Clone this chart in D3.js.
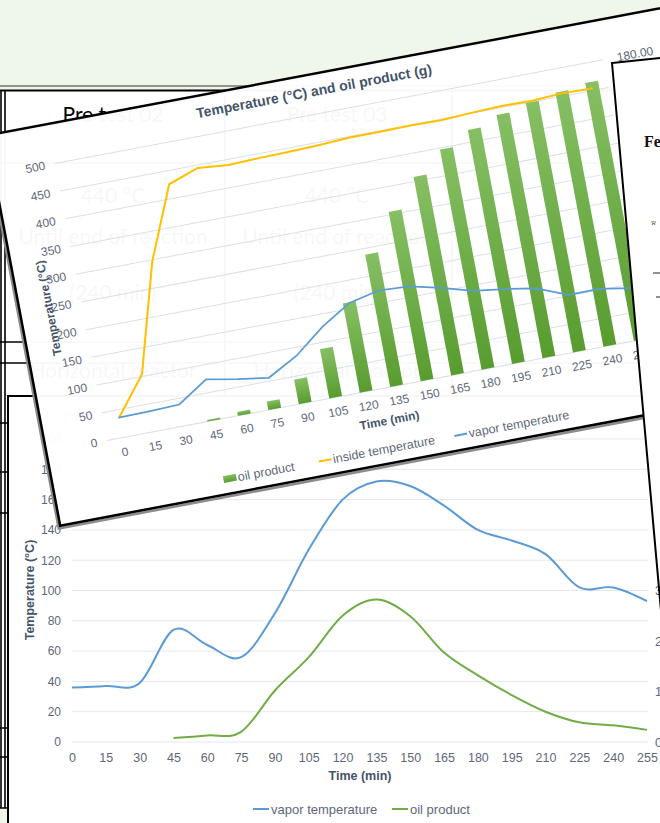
<!DOCTYPE html>
<html>
<head>
<meta charset="utf-8">
<script src="https://cdn.jsdelivr.net/npm/d3@7/dist/d3.min.js"></script>
<style>
  html, body { margin: 0; padding: 0; background: #eef7ea; }
  svg { display: block; }
</style>
</head>
<body>
<svg id="chart" width="660" height="823"></svg>
<script>
// ---------- data ----------
// Sampling times (min)
const minutes = [0, 15, 30, 45, 60, 75, 90, 105, 120, 135, 150, 165, 180, 195, 210, 225, 240, 255];
// Vapor temperature (°C)
const vaporTemp = [36, 37, 39, 74, 64, 56, 85, 127, 160, 172, 169, 156, 140, 133, 124, 102, 102, 93];
// Inside (reactor) temperature (°C)
const insideTemp = [35, 104, 297, 426, 445, 440, 442, 443, 445, 448, 448, 449, 448, 451, 453, 452, 455, 454];
// Cumulative oil product (g)
const oilCumulative = [0, 0, 0, 1, 2.5, 5.5, 16, 32, 58, 86, 110, 129, 143, 152, 158, 162, 165, 167.5];
// Oil product collected per 15-min interval (g)
const oilInterval = [null, null, null, 0.8, 1.3, 2, 10.2, 16.8, 25, 28.2, 24.9, 17.7, 13.2, 9.3, 6, 3.9, 3.3, 2.4];

// Axis ticks
const tempTicksTop = [0, 50, 100, 150, 200, 250, 300, 350, 400, 450, 500];
const oilTicksTop = [0, 18, 36, 54, 72, 90, 108, 126, 144, 162, 180];
const tempTicksBottom = [0, 20, 40, 60, 80, 100, 120, 140, 160, 180, 200];
const oilTicksBottom = [0, 10, 20, 30, 40, 50, 60];

// Experiment table text underneath
const tableCells = [
  ["Pre test 02", 113, 122], ["Pre test 03", 337, 122],
  ["440 °C", 113, 203], ["440 °C", 337, 203],
  ["Until end of reaction", 113, 244], ["Until end of reaction", 337, 244],
  ["(240 min)", 113, 300], ["(240 min)", 337, 300],
  ["Horizontal reactor", 113, 378], ["Horizontal reactor", 337, 378]
];

// ---------- styles ----------
const FONT = '"Liberation Sans", Arial, sans-serif';
const C = {
  blue: "#5b9bd5", orange: "#ffc000", green: "#70ad47",
  label: "#5e6878", title: "#44546a", grid: "#dcdfe4", gridB: "#e3e8ee"
};

const svg = d3.select("#chart");
const W = 660, H = 823;

const defs = svg.append("defs");
const grad = defs.append("linearGradient").attr("id", "barFill")
  .attr("x1", 0).attr("y1", 0).attr("x2", 0).attr("y2", 1);
grad.append("stop").attr("offset", "0%").attr("stop-color", "#86bf64");
grad.append("stop").attr("offset", "100%").attr("stop-color", "#589c2f");

// background
svg.append("rect").attr("width", W).attr("height", H).attr("fill", "#eef7ea");

// ---------- table underneath ----------
const table = svg.append("g");
table.append("rect").attr("x", 0).attr("y", 90).attr("width", W).attr("height", 718).attr("fill", "#fff");
table.append("line").attr("x1", 0).attr("x2", W).attr("y1", 86).attr("y2", 86)
  .attr("stroke", "#333").attr("stroke-width", 1);
table.append("line").attr("x1", 0).attr("x2", W).attr("y1", 90.5).attr("y2", 90.5)
  .attr("stroke", "#000").attr("stroke-width", 2);
[1, 5, 225, 452].forEach(x => {
  table.append("line").attr("x1", x).attr("x2", x).attr("y1", 90).attr("y2", 808)
    .attr("stroke", "#000").attr("stroke-width", 1.6);
});
[163, 342, 363, 423, 472, 513, 728, 757, 808].forEach(y => {
  table.append("line").attr("x1", 0).attr("x2", W).attr("y1", y).attr("y2", y)
    .attr("stroke", "#000").attr("stroke-width", 1.6);
});
table.selectAll("text.cell").data(tableCells).join("text")
  .attr("class", "cell")
  .attr("x", d => d[1]).attr("y", d => d[2])
  .attr("text-anchor", "middle")
  .attr("font-family", "Lato, 'Open Sans', sans-serif")
  .attr("font-size", 21).attr("fill", "#000")
  .text(d => d[0]);

// ---------- lower chart: vapor temperature and oil product per interval ----------
const lower = svg.append("g");
lower.append("rect").attr("x", 8).attr("y", 396).attr("width", 700).attr("height", 500).attr("fill", "#fff");
lower.append("line").attr("x1", 8).attr("x2", 8).attr("y1", 395).attr("y2", 823)
  .attr("stroke", "#000").attr("stroke-width", 2);
lower.append("line").attr("x1", 7).attr("x2", 700).attr("y1", 396).attr("y2", 396)
  .attr("stroke", "#000").attr("stroke-width", 2);

const xB = d3.scaleLinear().domain([0, 255]).range([72, 647]);
const yB = d3.scaleLinear().domain([0, 200]).range([742, 439]);
const yB2 = d3.scaleLinear().domain([0, 60]).range([742, 439]);

lower.append("g").selectAll("line").data(tempTicksBottom).join("line")
  .attr("x1", 72).attr("x2", 648)
  .attr("y1", d => yB(d)).attr("y2", d => yB(d))
  .attr("stroke", C.gridB).attr("stroke-width", 1);

function styleAxis(g, size, color) {
  g.select(".domain").remove();
  g.attr("font-family", FONT).attr("font-size", size);
  g.selectAll("text").attr("fill", color);
}

lower.append("g").attr("transform", "translate(72,0)")
  .call(d3.axisLeft(yB).tickValues(tempTicksBottom).tickSize(0).tickPadding(11))
  .call(g => styleAxis(g, 12, C.label));
lower.append("g").attr("transform", "translate(0,742)")
  .call(d3.axisBottom(xB).tickValues(minutes).tickSize(0).tickPadding(11.5))
  .call(g => styleAxis(g, 12.5, C.label));
// secondary (oil) axis: its labels run under the right-hand sheet
lower.append("g").attr("transform", "translate(647,0)")
  .call(d3.axisRight(yB2).tickValues(oilTicksBottom).tickSize(0).tickPadding(8))
  .call(g => styleAxis(g, 12.5, C.label));

const smooth = d3.curveCatmullRom.alpha(0);
lower.append("path")
  .attr("d", d3.line().curve(smooth).x((d, i) => xB(minutes[i])).y(d => yB(d))(vaporTemp))
  .attr("fill", "none").attr("stroke", C.blue).attr("stroke-width", 2);
lower.append("path")
  .attr("d", d3.line().curve(smooth).defined(d => d != null)
    .x((d, i) => xB(minutes[i])).y(d => yB2(d))(oilInterval))
  .attr("fill", "none").attr("stroke", C.green).attr("stroke-width", 2);

lower.append("text").attr("x", 360).attr("y", 779.5).attr("text-anchor", "middle")
  .attr("font-family", FONT).attr("font-size", 12.5).attr("font-weight", "bold")
  .attr("fill", C.title).text("Time (min)");
lower.append("text").attr("transform", "translate(30,590) rotate(-90)")
  .attr("text-anchor", "middle").attr("dy", "0.35em")
  .attr("font-family", FONT).attr("font-size", 12.5).attr("font-weight", "bold")
  .attr("fill", C.title).text("Temperature (°C)");

const legB = [
  { name: "vapor temperature", color: C.blue, x: 253 },
  { name: "oil product", color: C.green, x: 392 }
];
legB.forEach(d => {
  lower.append("line").attr("x1", d.x).attr("x2", d.x + 16).attr("y1", 809).attr("y2", 809)
    .attr("stroke", d.color).attr("stroke-width", 2);
  lower.append("text").attr("x", d.x + 18).attr("y", 813.5)
    .attr("font-family", FONT).attr("font-size", 13).attr("fill", C.label).text(d.name);
});

// ---------- upper chart (tilted sheet): temperatures and cumulative oil ----------
const upper = svg.append("g").attr("transform", "translate(-13.5,135.6) rotate(-10.7)");
const FW = 760, FH = 397;
upper.append("rect").attr("x", -2).attr("y", 2.5).attr("width", FW).attr("height", FH)
  .attr("fill", "none").attr("stroke", "#8c8c8c").attr("stroke-width", 2.5);
upper.append("rect").attr("width", FW).attr("height", FH)
  .attr("fill", "#fff").attr("fill-opacity", 0.968)
  .attr("stroke", "#000").attr("stroke-width", 2.5);

const L = 62, R = 620, T = 40, B = 322;
const xT = d3.scaleBand().domain(minutes).range([L, R]);
const yT = d3.scaleLinear().domain([0, 500]).range([B, T]);
const yTo = d3.scaleLinear().domain([0, 180]).range([B, T]);
const bw = xT.bandwidth();
const cx = m => xT(m) + bw / 2;

upper.append("g").selectAll("line").data(tempTicksTop).join("line")
  .attr("x1", L).attr("x2", R)
  .attr("y1", d => yT(d)).attr("y2", d => yT(d))
  .attr("stroke", C.grid).attr("stroke-width", 1);

const barW = bw * 0.42;
upper.append("g").selectAll("rect")
  .data(minutes.map((m, i) => ({ m, v: oilCumulative[i] })).filter(d => d.v > 0))
  .join("rect")
  .attr("x", d => cx(d.m) - barW / 2)
  .attr("y", d => yTo(d.v))
  .attr("width", barW)
  .attr("height", d => yTo(0) - yTo(d.v))
  .attr("fill", "url(#barFill)");

upper.append("path")
  .attr("d", d3.line().x((d, i) => cx(minutes[i])).y(d => yT(d))(insideTemp))
  .attr("fill", "none").attr("stroke", C.orange).attr("stroke-width", 2);
upper.append("path")
  .attr("d", d3.line().x((d, i) => cx(minutes[i])).y(d => yT(d))(vaporTemp))
  .attr("fill", "none").attr("stroke", C.blue).attr("stroke-width", 1.75);

upper.append("g").attr("transform", `translate(${L},0)`)
  .call(d3.axisLeft(yT).tickValues(tempTicksTop).tickSize(0).tickPadding(10))
  .call(g => styleAxis(g, 12, C.label));
upper.append("g").attr("transform", `translate(0,${B})`)
  .call(d3.axisBottom(xT).tickSize(0).tickPadding(10))
  .call(g => styleAxis(g, 12, C.label));
upper.append("g").attr("transform", `translate(${R},0)`)
  .call(d3.axisRight(yTo).tickValues(oilTicksTop).tickFormat(d3.format(".2f")).tickSize(0).tickPadding(14))
  .call(g => styleAxis(g, 12, C.label));

upper.append("text").attr("x", 330).attr("y", 22).attr("text-anchor", "middle")
  .attr("font-family", FONT).attr("font-size", 14).attr("font-weight", "bold")
  .attr("fill", C.title).text("Temperature (°C) and oil product (g)");
upper.append("text").attr("x", 343).attr("y", 358.6).attr("text-anchor", "middle")
  .attr("font-family", FONT).attr("font-size", 12).attr("font-weight", "bold")
  .attr("fill", C.title).text("Time (min)");
upper.append("text").attr("transform", "translate(29,181) rotate(-90)")
  .attr("text-anchor", "middle").attr("dy", "0.35em")
  .attr("font-family", FONT).attr("font-size", 12).attr("font-weight", "bold")
  .attr("fill", C.title).text("Temperature (°C)");

const legT = [
  { name: "oil product", type: "bar", x: 169 },
  { name: "inside temperature", type: "line", color: C.orange, x: 266 },
  { name: "vapor temperature", type: "line", color: C.blue, x: 404 }
];
legT.forEach(d => {
  if (d.type === "bar") {
    upper.append("rect").attr("x", d.x).attr("y", 378.5).attr("width", 13).attr("height", 7)
      .attr("fill", "url(#barFill)");
  } else {
    upper.append("line").attr("x1", d.x).attr("x2", d.x + 13).attr("y1", 382).attr("y2", 382)
      .attr("stroke", d.color).attr("stroke-width", 2);
  }
  upper.append("text").attr("x", d.x + 14.5).attr("y", 386.4)
    .attr("font-family", FONT).attr("font-size", 12.5).attr("fill", C.label).text(d.name);
});

// ---------- right-hand sheet ----------
const sheet = svg.append("g");
sheet.append("polygon")
  .attr("points", [[612, 63], [665, 57.5], [760, 57.5], [760, 823], [680, 823]].map(p => p.join(",")).join(" "))
  .attr("fill", "#fff").attr("stroke", "#000").attr("stroke-width", 2);
sheet.append("text").attr("x", 644).attr("y", 147)
  .attr("font-family", "'Liberation Serif', 'DejaVu Serif', serif")
  .attr("font-size", 16).attr("font-weight", "bold").attr("fill", "#111").text("Fe");
sheet.append("text").attr("x", 650).attr("y", 225)
  .attr("font-family", "'Liberation Serif', serif").attr("font-style", "italic")
  .attr("font-size", 7).attr("fill", "#7a4a2a").text("'R");
sheet.append("line").attr("x1", 653).attr("x2", 661).attr("y1", 273).attr("y2", 273)
  .attr("stroke", "#222").attr("stroke-width", 1);
sheet.append("line").attr("x1", 656).attr("x2", 661).attr("y1", 297).attr("y2", 297)
  .attr("stroke", "#222").attr("stroke-width", 1);
</script>
</body>
</html>
